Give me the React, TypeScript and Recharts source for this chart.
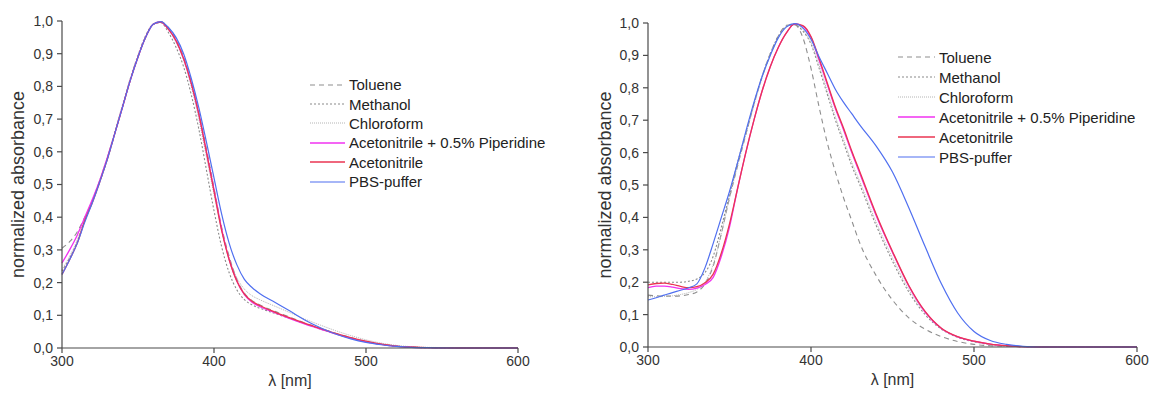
import { LineChart, Line, XAxis, YAxis, Legend } from 'recharts';

// wavelengths in nm, shared by every series
const wavelengths = [
  300, 305, 310, 315, 320, 325, 330, 335, 340, 345, 350, 355, 360, 365, 370, 375, 380, 385, 390, 395,
  400, 405, 410, 415, 420, 425, 430, 440, 450, 460, 470, 480, 490, 500, 510, 520, 530, 540, 560, 580, 600,
];

// left panel
const leftToluene = [
  0.305, 0.325, 0.355, 0.4, 0.45, 0.51, 0.58, 0.66, 0.74, 0.82, 0.89, 0.95, 0.99, 0.998, 0.98, 0.945, 0.89, 0.815, 0.72, 0.61,
  0.49, 0.37, 0.28, 0.21, 0.168, 0.145, 0.132, 0.112, 0.094, 0.076, 0.06, 0.045, 0.032, 0.02, 0.012, 0.006, 0.003, 0.001, 0, 0, 0,
];
const leftMethanol = [
  0.235, 0.275, 0.325, 0.39, 0.45, 0.515, 0.585, 0.665, 0.745, 0.825, 0.895, 0.955, 0.99, 0.995, 0.965, 0.92, 0.86, 0.775, 0.67, 0.545,
  0.42, 0.31, 0.23, 0.178, 0.148, 0.132, 0.122, 0.106, 0.09, 0.074, 0.058, 0.043, 0.03, 0.019, 0.011, 0.005, 0.002, 0.001, 0, 0, 0,
];
const leftChloroform = [
  0.24, 0.28, 0.33, 0.395, 0.45, 0.515, 0.585, 0.66, 0.74, 0.82, 0.89, 0.95, 0.99, 0.997, 0.975, 0.935, 0.88, 0.8, 0.7, 0.585,
  0.47, 0.36, 0.275, 0.215, 0.18, 0.16, 0.148, 0.128, 0.108, 0.088, 0.07, 0.053, 0.038, 0.025, 0.015, 0.008, 0.004, 0.002, 0.001, 0, 0,
];
const leftPiperidine = [
  0.26, 0.3, 0.345, 0.4, 0.455, 0.515, 0.585, 0.66, 0.74, 0.82, 0.89, 0.95, 0.99, 0.997, 0.975, 0.94, 0.885, 0.81, 0.715, 0.6,
  0.485, 0.365, 0.27, 0.205, 0.163, 0.14, 0.127, 0.108, 0.09, 0.073, 0.058, 0.043, 0.03, 0.019, 0.011, 0.005, 0.002, 0.001, 0, 0, 0,
];
const leftAcetonitrile = [
  0.225, 0.27, 0.32, 0.39, 0.445, 0.51, 0.58, 0.66, 0.74, 0.82, 0.89, 0.95, 0.99, 0.997, 0.975, 0.94, 0.885, 0.81, 0.715, 0.6,
  0.48, 0.36, 0.27, 0.205, 0.165, 0.143, 0.13, 0.11, 0.092, 0.075, 0.06, 0.045, 0.032, 0.021, 0.012, 0.006, 0.003, 0.001, 0, 0, 0,
];
const leftPbs = [
  0.225, 0.27, 0.32, 0.385, 0.445, 0.51, 0.58, 0.66, 0.74, 0.82, 0.89, 0.95, 0.99, 0.998, 0.98, 0.95, 0.9, 0.825, 0.735, 0.63,
  0.52, 0.41, 0.32, 0.255, 0.21, 0.185, 0.167, 0.14, 0.113, 0.085, 0.062, 0.043, 0.028, 0.017, 0.01, 0.005, 0.002, 0.001, 0, 0, 0,
];

// right panel
const rightToluene = [
  0.16, 0.158, 0.157, 0.157, 0.158, 0.162, 0.17, 0.195, 0.25, 0.35, 0.46, 0.56, 0.655, 0.75, 0.835, 0.905, 0.96, 0.993, 0.995, 0.955,
  0.86, 0.74, 0.63, 0.54, 0.46, 0.39, 0.32, 0.22, 0.145, 0.09, 0.055, 0.032, 0.017, 0.008, 0.004, 0.002, 0.001, 0, 0, 0, 0,
];
const rightMethanol = [
  0.2, 0.2, 0.2, 0.2, 0.2, 0.203, 0.21, 0.23, 0.28, 0.37, 0.47, 0.57, 0.66, 0.75, 0.835, 0.905, 0.96, 0.99, 0.995, 0.975,
  0.935, 0.86, 0.78, 0.7, 0.63, 0.56, 0.5, 0.375, 0.265, 0.17, 0.1, 0.055, 0.03, 0.016, 0.008, 0.003, 0.001, 0, 0, 0, 0,
];
const rightChloroform = [
  0.155, 0.155, 0.156, 0.158, 0.162, 0.168, 0.178, 0.2, 0.255, 0.35, 0.46, 0.56, 0.655, 0.745, 0.83, 0.9, 0.955, 0.99, 0.997, 0.98,
  0.94, 0.87, 0.79, 0.71, 0.64, 0.57, 0.51, 0.385, 0.275, 0.178, 0.105, 0.058, 0.031, 0.017, 0.008, 0.003, 0.001, 0, 0, 0, 0,
];
const rightPiperidine = [
  0.183, 0.188, 0.188, 0.185, 0.18, 0.178, 0.182, 0.193, 0.215, 0.28, 0.37, 0.49, 0.6, 0.7, 0.79, 0.865, 0.925, 0.97, 0.997, 0.99,
  0.955, 0.885, 0.81, 0.735, 0.67, 0.6, 0.535, 0.405, 0.292, 0.188, 0.108, 0.057, 0.031, 0.018, 0.009, 0.004, 0.001, 0, 0, 0, 0,
];
const rightAcetonitrile = [
  0.192, 0.196, 0.197, 0.193, 0.187, 0.183, 0.186, 0.198, 0.225, 0.29, 0.38, 0.49, 0.6, 0.7, 0.79, 0.865, 0.925, 0.97, 0.997, 0.992,
  0.958, 0.89, 0.815, 0.74, 0.675, 0.605, 0.54, 0.41, 0.295, 0.19, 0.11, 0.058, 0.032, 0.018, 0.009, 0.004, 0.001, 0, 0, 0, 0,
];
const rightPbs = [
  0.145, 0.152, 0.16, 0.168, 0.175, 0.183, 0.195, 0.245, 0.32, 0.4, 0.48, 0.57, 0.665, 0.755, 0.835, 0.9, 0.955, 0.988, 0.998, 0.985,
  0.95, 0.895, 0.845, 0.795, 0.755, 0.72, 0.685, 0.62, 0.54, 0.43, 0.31, 0.195, 0.105, 0.048, 0.02, 0.008, 0.002, 0, 0, 0, 0,
];

const xMajor = [300, 400, 500, 600];
const xMinor = [300, 350, 400, 450, 500, 550, 600];
const yMajor = [0, 0.1, 0.2, 0.3, 0.4, 0.5, 0.6, 0.7, 0.8, 0.9, 1.0];
const yMinor = [0, 0.05, 0.1, 0.15, 0.2, 0.25, 0.3, 0.35, 0.4, 0.45, 0.5, 0.55, 0.6, 0.65, 0.7, 0.75, 0.8, 0.85, 0.9, 0.95, 1.0];

const series = [
  { key: 'toluene', name: 'Toluene', color: '#8e8e8e', dash: '5 4', width: 1.1 },
  { key: 'methanol', name: 'Methanol', color: '#8a8a8a', dash: '2 2', width: 1.1 },
  { key: 'chloroform', name: 'Chloroform', color: '#b4b4b4', dash: '1 1', width: 1 },
  { key: 'piperidine', name: 'Acetonitrile + 0.5% Piperidine', color: '#f032f0', dash: undefined, width: 1.3 },
  { key: 'acetonitrile', name: 'Acetonitrile', color: '#ea3552', dash: undefined, width: 1.3 },
  { key: 'pbs', name: 'PBS-puffer', color: '#4f6ff0', dash: undefined, width: 1.2 },
];

const buildRows = (cols: number[][]) =>
  wavelengths.map((l, i) => {
    const row: Record<string, number> = { lambda: l };
    series.forEach((s, j) => {
      row[s.key] = cols[j][i];
    });
    return row;
  });

const leftRows = buildRows([leftToluene, leftMethanol, leftChloroform, leftPiperidine, leftAcetonitrile, leftPbs]);
const rightRows = buildRows([rightToluene, rightMethanol, rightChloroform, rightPiperidine, rightAcetonitrile, rightPbs]);

const FONT = '"Liberation Sans", Arial, sans-serif';
const AXIS = '#4a4a4a';
const fmtY = (v: number) => v.toFixed(1).replace('.', ',');

const LegendBox = ({ rowH, lineLen }: { rowH: number; lineLen: number }) => (
  <div style={{ fontFamily: FONT, fontSize: 15, color: '#222' }}>
    {series.map((s) => (
      <div key={s.key} style={{ display: 'flex', alignItems: 'center', height: rowH, whiteSpace: 'nowrap' }}>
        <svg width={lineLen + 4} height={6} style={{ display: 'block' }}>
          <line x1={0} y1={3} x2={lineLen} y2={3} stroke={s.color} strokeWidth={s.width} strokeDasharray={s.dash} />
        </svg>
        <span>{s.name}</span>
      </div>
    ))}
  </div>
);

type PanelProps = {
  rows: Record<string, number>[];
  left: number;
  width: number;
  margin: { top: number; right: number; bottom: number; left: number };
  yWidth: number;
  yLabelOffset: number;
  legendLeft: number;
  legendTop: number;
  legendRow: number;
  legendLine: number;
};

const Panel = (p: PanelProps) => (
  <div style={{ position: 'absolute', left: p.left, top: 0 }}>
    <LineChart width={p.width} height={394} data={p.rows} margin={p.margin}>
      <XAxis
        xAxisId="minor"
        type="number"
        dataKey="lambda"
        domain={[300, 600]}
        ticks={xMinor}
        height={0}
        tick={false}
        tickSize={3}
        axisLine={false}
        tickLine={{ stroke: AXIS }}
      />
      <XAxis
        xAxisId="major"
        type="number"
        dataKey="lambda"
        domain={[300, 600]}
        ticks={xMajor}
        height={40}
        tickSize={5}
        tickMargin={3}
        stroke={AXIS}
        strokeWidth={1.2}
        tick={{ fill: '#333', fontSize: 14, fontFamily: FONT }}
        label={{ value: 'λ [nm]', position: 'insideBottom', offset: 2, fill: '#333', fontSize: 16, fontFamily: FONT }}
      />
      <YAxis
        yAxisId="minor"
        type="number"
        domain={[0, 1]}
        ticks={yMinor}
        width={0}
        tick={false}
        tickSize={3}
        axisLine={false}
        tickLine={{ stroke: AXIS }}
      />
      <YAxis
        yAxisId="major"
        type="number"
        domain={[0, 1]}
        ticks={yMajor}
        width={p.yWidth}
        tickSize={5}
        tickMargin={4}
        tickFormatter={fmtY}
        stroke={AXIS}
        strokeWidth={1.2}
        tick={{ fill: '#333', fontSize: 14, fontFamily: FONT }}
        label={{
          value: 'normalized absorbance',
          angle: -90,
          position: 'insideLeft',
          offset: p.yLabelOffset,
          fill: '#333',
          fontSize: 18,
          fontFamily: FONT,
          style: { textAnchor: 'middle' },
        }}
      />
      <Legend
        layout="vertical"
        align="center"
        verticalAlign="middle"
        content={() => <LegendBox rowH={p.legendRow} lineLen={p.legendLine} />}
        wrapperStyle={{ left: p.legendLeft, top: p.legendTop, width: 'auto' }}
      />
      {series.map((s) => (
        <Line
          key={s.key}
          xAxisId="major"
          yAxisId="major"
          type="monotone"
          dataKey={s.key}
          name={s.name}
          stroke={s.color}
          strokeWidth={s.width}
          strokeDasharray={s.dash}
          dot={false}
          activeDot={false}
          isAnimationActive={false}
        />
      ))}
    </LineChart>
  </div>
);

const App = () => (
  <div style={{ position: 'absolute', left: 0, top: 0, width: 1151, height: 394, background: '#fff', fontFamily: FONT }}>
    <Panel
      rows={leftRows}
      left={0}
      width={560}
      margin={{ top: 21, right: 42, bottom: 6, left: 0 }}
      yWidth={62}
      yLabelOffset={18}
      legendLeft={310}
      legendTop={75}
      legendRow={19.4}
      legendLine={35}
    />
    <Panel
      rows={rightRows}
      left={590}
      width={561}
      margin={{ top: 23, right: 14, bottom: 7, left: 0 }}
      yWidth={58}
      yLabelOffset={15}
      legendLeft={308}
      legendTop={47}
      legendRow={20}
      legendLine={37}
    />
  </div>
);

export default App;
